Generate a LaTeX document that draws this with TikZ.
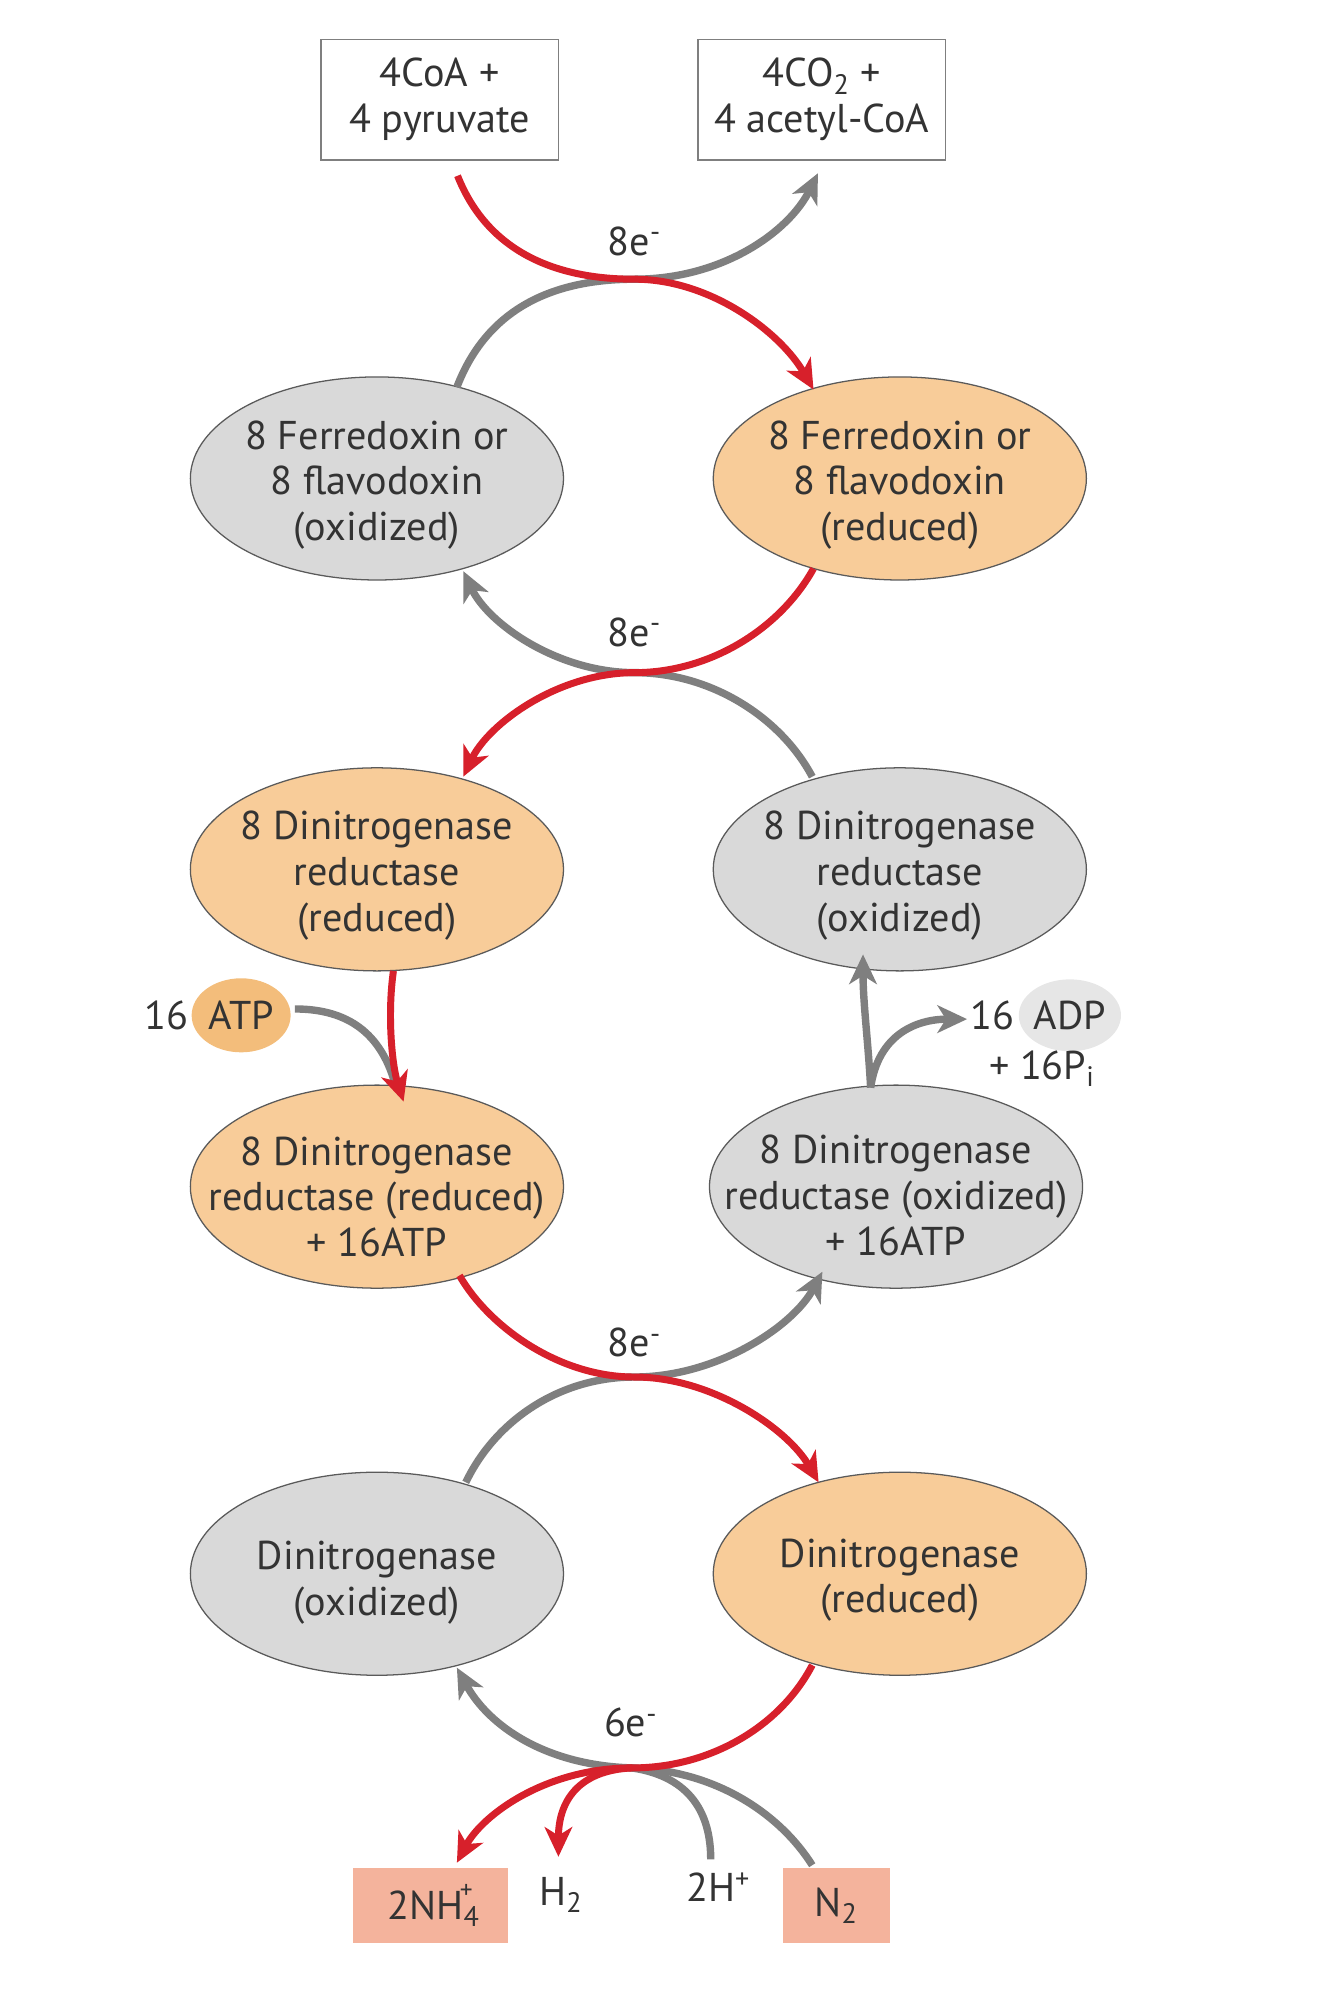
\documentclass[tikz,border=0pt]{standalone}
\usepackage{fontspec}
\setmainfont{PT Sans}
\usetikzlibrary{shapes.geometric,arrows.meta,calc}
\definecolor{txtc}{HTML}{333333}
\definecolor{bordc}{HTML}{5A5A5A}
\definecolor{orfill}{HTML}{F8CC99}
\definecolor{grfill}{HTML}{D9D9D9}
\definecolor{redc}{HTML}{D7202B}
\definecolor{grayc}{HTML}{7F7F7F}
\definecolor{atpc}{HTML}{F3BD7B}
\definecolor{adpc}{HTML}{E6E6E6}
\definecolor{salmon}{HTML}{F4B39C}
\begin{document}
\begin{tikzpicture}[x=0.6pt,y=-0.6pt,
  font=\fontsize{19}{21.6}\selectfont, text=txtc,
  ell/.style={ellipse, draw=bordc, line width=0.6pt, minimum width=176.4pt, minimum height=96pt, inner sep=0pt},
  orell/.style={ell, fill=orfill},
  grell/.style={ell, fill=grfill},
  lab/.style={align=center, inner sep=0pt},
  topbox/.style={draw=grayc, line width=0.6pt, fill=white, minimum height=57pt, align=center, inner sep=0pt},
  botbox/.style={fill=salmon, minimum height=35.4pt, inner sep=0pt},
  tipstyle/.style={-{Stealth[length=14pt,width=13pt,inset=4pt]}},
  ra/.style={draw=redc, line width=3.3pt, tipstyle},
  ga/.style={draw=grayc, line width=3.5pt, tipstyle},
  gl/.style={draw=grayc, line width=3.5pt},
  rl/.style={draw=redc, line width=3.3pt}]
\useasboundingbox (0,0) rectangle (1051,1568);

% top boxes
\node[topbox, minimum width=112.2pt] (b1) at (346.5,78.5) {4CoA +\\4 pyruvate};
\node[topbox, minimum width=117pt] (b2) at (647.5,78.5) {4CO\textsubscript{2} +\\4 acetyl-CoA};

% ellipses
\node[grell] (fo) at (297,377) {};
\node[lab] (fot) at (297,382) {8 Ferredoxin or\\8 flavodoxin\\(oxidized)};
\node[orell] (fr) at (709,377) {};
\node[lab] (frt) at (709,382) {8 Ferredoxin or\\8 flavodoxin\\(reduced)};

\node[orell] (dr) at (297,685) {};
\node[lab] (drt) at (297,690) {8 Dinitrogenase\\reductase\\(reduced)};
\node[grell] (dox) at (709,685) {};
\node[lab] (doxt) at (709,690) {8 Dinitrogenase\\reductase\\(oxidized)};

\node[orell] (dra) at (297,935) {};
\node[lab] (drat) at (297,943) {8 Dinitrogenase\\reductase (reduced)\\+ 16ATP};
\node[grell] (doa) at (706,935) {};
\node[lab] (doat) at (706,942) {8 Dinitrogenase\\reductase (oxidized)\\+ 16ATP};

\node[grell] (nox) at (297,1240) {};
\node[lab] (noxt) at (297,1247) {Dinitrogenase\\(oxidized)};
\node[orell] (nred) at (709,1240) {};
\node[lab] (nredt) at (709,1245) {Dinitrogenase\\(reduced)};

% ATP / ADP
\node[lab] (n16a) at (131,800) {16};
\node[ellipse, fill=atpc, minimum width=46.8pt, minimum height=35pt, inner sep=0pt] (atp) at (190,800) {ATP};
\node[lab] (n16b) at (782,800) {16};
\node[ellipse, fill=adpc, minimum width=45pt, minimum height=34pt, inner sep=0pt] (adp) at (843,800) {ADP};
\node[lab] (pi) at (821,842) {+ 16P\textsubscript{i}};

% bottom
\node[botbox, minimum width=73.2pt] (nh) at (339,1501.5) {2NH\textsubscript{4}\kern-0.5em\raisebox{1.05ex}{\fontsize{12}{12}\selectfont +}};
\node[botbox, minimum width=50.4pt] (n2) at (659,1501.5) {N\textsubscript{2}};
\node[lab] (h2) at (442,1493) {H\textsubscript{2}};
\node[lab] (hp) at (566,1487) {2H\textsuperscript{+}};

% electron labels
\node[lab] (e1) at (500,190) {8e\textsuperscript{-}};
\node[lab] (e2) at (500,498) {8e\textsuperscript{-}};
\node[lab] (e3) at (500,1058) {8e\textsuperscript{-}};
\node[lab] (e4) at (497,1357) {6e\textsuperscript{-}};

% crossing points
\coordinate (x1) at (500,220);
\coordinate (x2) at (500,530);
\coordinate (x4) at (500,1085);
\coordinate (x5) at (498,1393);

% ---- gray arrows ----
\draw[ga] ($(fo)+(63,-72)$) .. controls (385,240) and (440,220) .. (x1)
  .. controls (570,220) and (622,182) .. ($(b2.south)+(-3,10)$);
\draw[ga] ($(dox)+(-69,-73)$) .. controls (615,565) and (560,530) .. (x2)
  .. controls (440,530) and (385,492) .. ($(fo)+(68,73)$);
\draw[gl] ($(atp.east)+(3,-5)$) .. controls (275,795) and (300,815) .. ($(dra)+(14,-82)$);
\draw[ga] ($(doa)+(-20,-78)$) .. controls (684,820) and (680,790) .. ($(dox)+(-29,67)$);
\draw[ga] ($(doa)+(-20,-78)$) .. controls (692,815) and (722,803) .. ($(adp)+(-81,3)$);
\draw[ga] ($(nox)+(70,-72)$) .. controls (390,1120) and (440,1085) .. (x4)
  .. controls (565,1085) and (625,1045) .. ($(doa)+(-58,67)$);
\draw[gl] ($(hp)+(-6,-22)$) .. controls (560,1430) and (545,1400) .. (x5);
\draw[ga] ($(n2.north)+(-19,-2)$) .. controls (615,1430) and (565,1395) .. (x5)
  .. controls (430,1391) and (385,1360) .. ($(nox)+(63,74)$);

% ---- red arrows ----
\draw[ra] ($(b1.south)+(14,12)$) .. controls (385,200) and (440,220) .. (x1)
  .. controls (560,220) and (615,262) .. ($(fr)+(-68,-70)$);
\draw[ra] ($(fr)+(-68,71)$) .. controls (615,495) and (560,530) .. (x2)
  .. controls (440,530) and (385,570) .. ($(dr)+(68,-73)$);
\draw[ra] ($(dr)+(13,80)$) .. controls (305,800) and (309,840) .. ($(dra)+(21,-67)$);
\draw[ra] ($(dra)+(65,70)$) .. controls (385,1045) and (440,1085) .. (x4)
  .. controls (560,1085) and (620,1125) .. ($(nred)+(-64,-72)$);
\draw[ra] ($(nred)+(-69,72)$) .. controls (615,1360) and (560,1393) .. (x5)
  .. controls (430,1393) and (380,1430) .. ($(nh.north)+(21,-4)$);
\draw[ra] (x5) .. controls (455,1395) and (440,1420) .. ($(h2)+(-2,-30)$);
\end{tikzpicture}
\end{document}
